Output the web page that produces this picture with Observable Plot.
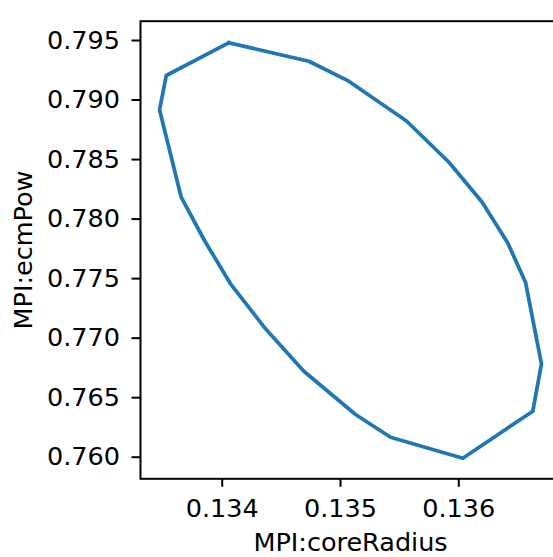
<!DOCTYPE html>
<html>
<head>
<meta charset="utf-8">
<script src="https://cdn.jsdelivr.net/npm/d3@7"></script>
<script src="https://cdn.jsdelivr.net/npm/@observablehq/plot@0.6"></script>
<style>
  html, body { margin: 0; padding: 0; background: white; overflow: hidden; }
</style>
</head>
<body>
<div id="chart"></div>
<script>
// Contour vertices (MPI:coreRadius, MPI:ecmPow)
const coreRadius = [0.134056, 0.134732, 0.135070, 0.135558, 0.135915, 0.136198, 0.136412, 0.136564, 0.136699, 0.136626, 0.136034, 0.135423, 0.135127, 0.134690, 0.134366, 0.134070, 0.133850, 0.133653, 0.133470, 0.133527];
const ecmPow = [0.794807, 0.793261, 0.791582, 0.788239, 0.784795, 0.781419, 0.778034, 0.774700, 0.767846, 0.763865, 0.759917, 0.761681, 0.763588, 0.767224, 0.770786, 0.774565, 0.778202, 0.781839, 0.789179, 0.792060];
const xTicks = [0.134, 0.135, 0.136];
const yTicks = [0.760, 0.765, 0.770, 0.775, 0.780, 0.785, 0.790, 0.795];
const xLabel = "MPI:coreRadius";
const yLabel = "MPI:ecmPow";
const xDomain = [0.133309, 0.136860];
const yDomain = [0.758187, 0.796621];

const pts = coreRadius.map((x, i) => ({x, y: ecmPow[i]}));
pts.push(pts[0]);

const fs = 25.5;
const chart = Plot.plot({
  width: 553,
  height: 557,
  marginLeft: 140,
  marginRight: -7,
  marginTop: 20.7,
  marginBottom: 78.7,
  style: {fontFamily: "DejaVu Sans", fontSize: fs + "px", color: "black", background: "white", overflow: "hidden"},
  x: {domain: xDomain},
  y: {domain: yDomain},
  marks: [
    Plot.line(pts, {x: "x", y: "y", stroke: "#1f77b4", strokeWidth: 3.75, strokeLinejoin: "round", strokeLinecap: "square"}),
    Plot.frame({stroke: "black", strokeWidth: 2}),
    Plot.axisX({ticks: xTicks, tickFormat: d3.format(".3f"), tickSize: 8.5, tickPadding: 12, strokeWidth: 2, label: null, fontSize: fs}),
    Plot.axisY({ticks: yTicks, tickFormat: d3.format(".3f"), tickSize: 8.5, tickPadding: 12, strokeWidth: 2, label: null, fontSize: fs}),
    Plot.text([xLabel], {text: d => d, frameAnchor: "bottom", dy: 63.7, lineAnchor: "middle", textAnchor: "middle", fontSize: fs, fill: "black"}),
    Plot.text([yLabel], {text: d => d, frameAnchor: "left", dx: -117, rotate: -90, lineAnchor: "middle", textAnchor: "middle", fontSize: fs, fill: "black"})
  ]
});
document.getElementById("chart").appendChild(chart);
</script>
</body>
</html>
